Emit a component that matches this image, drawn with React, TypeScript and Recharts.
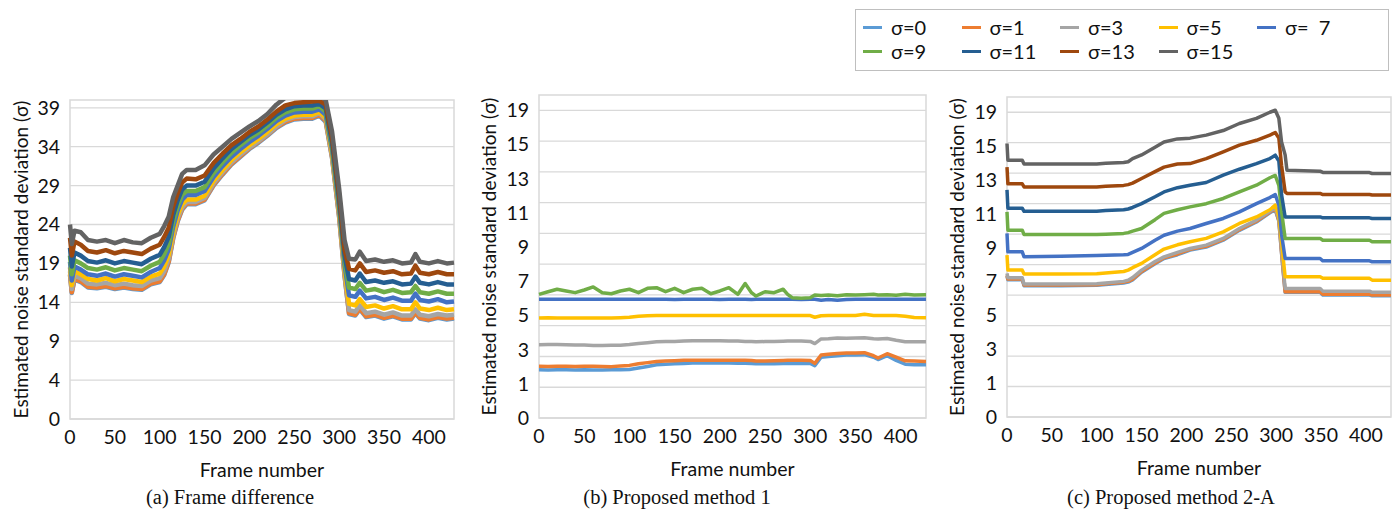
import React from 'react';
import { LineChart, Line, XAxis, YAxis, CartesianGrid, ReferenceArea } from 'recharts';

const SERIES_KEYS = ['s0', 's1', 's3', 's5', 's7', 's9', 's11', 's13', 's15'];
const SERIES_NAMES = ['σ=0', 'σ=1', 'σ=3', 'σ=5', 'σ=  7', 'σ=9', 'σ=11', 'σ=13', 'σ=15'];
const SERIES_COLORS = ['#5B9BD5', '#ED7D31', '#A5A5A5', '#FFC000', '#4472C4', '#70AD47', '#255E91', '#9E480E', '#636363'];

const X_TICKS = [0, 50, 100, 150, 200, 250, 300, 350, 400];
const X_MAX = 428;
const X_TITLE = 'Frame number';
const Y_TITLE = 'Estimated noise standard deviation (σ)';
const CAPTIONS = ['(a) Frame difference', '(b) Proposed method 1', '(c) Proposed method 2-A'];

// ---------- (a) Frame difference ----------
const A_FRAMES = [0, 2, 5, 12, 20, 30, 40, 50, 60, 70, 80, 90, 100, 105, 110, 115, 120, 125, 130, 140, 150, 160, 170, 180, 190, 200, 210, 220, 230, 240, 250, 260, 270, 278, 285, 292, 300, 306, 311, 318, 323, 330, 340, 350, 360, 370, 380, 385, 390, 400, 410, 420, 428];
const A_S15 = [24.0, 21.5, 23.2, 23.0, 22.0, 21.8, 22.0, 21.6, 22.0, 21.7, 21.6, 22.3, 22.8, 23.8, 25.0, 27.5, 29.0, 30.5, 31.0, 31.0, 31.6, 33.0, 34.0, 35.0, 35.8, 36.6, 37.3, 38.2, 39.4, 40.3, 40.5, 40.5, 40.5, 40.6, 40.0, 36.0, 28.6, 22.0, 19.6, 19.5, 20.5, 19.3, 19.5, 19.2, 19.4, 19.0, 19.1, 20.2, 19.2, 19.0, 19.3, 19.0, 19.1];
const A_S13 = [22.3, 20.0, 21.8, 21.4, 20.6, 20.4, 20.7, 20.3, 20.6, 20.4, 20.2, 20.9, 21.4, 22.4, 23.6, 26.3, 28.0, 29.4, 29.9, 29.8, 30.3, 31.9, 33.1, 34.2, 35.0, 35.9, 36.6, 37.5, 38.5, 39.3, 39.6, 39.7, 39.8, 39.9, 39.4, 35.2, 27.8, 20.8, 18.3, 18.1, 19.0, 17.9, 18.1, 17.8, 18.0, 17.6, 17.7, 18.7, 17.8, 17.6, 17.9, 17.6, 17.6];
const A_S11 = [21.0, 18.6, 20.4, 20.0, 19.3, 19.1, 19.4, 19.0, 19.3, 19.1, 18.9, 19.6, 20.1, 21.1, 22.4, 25.2, 27.1, 28.5, 29.0, 29.0, 29.5, 31.2, 32.5, 33.7, 34.6, 35.5, 36.2, 37.1, 38.1, 38.8, 39.2, 39.3, 39.3, 39.5, 38.9, 34.6, 27.1, 20.0, 17.0, 16.8, 17.7, 16.6, 16.8, 16.5, 16.7, 16.3, 16.4, 17.3, 16.5, 16.3, 16.6, 16.3, 16.3];
const A_S9 = [20.0, 17.6, 19.4, 19.0, 18.4, 18.2, 18.5, 18.1, 18.4, 18.2, 18.0, 18.7, 19.2, 20.2, 21.5, 24.4, 26.4, 27.8, 28.3, 28.3, 28.8, 30.6, 32.0, 33.2, 34.2, 35.1, 35.8, 36.7, 37.7, 38.4, 38.8, 38.9, 38.9, 39.2, 38.5, 34.1, 26.6, 19.4, 15.9, 15.7, 16.5, 15.5, 15.7, 15.3, 15.6, 15.2, 15.3, 16.1, 15.3, 15.1, 15.4, 15.1, 15.1];
const A_S7 = [19.2, 16.8, 18.6, 18.2, 17.6, 17.4, 17.7, 17.3, 17.6, 17.4, 17.2, 17.9, 18.4, 19.4, 20.8, 23.7, 25.8, 27.2, 27.8, 27.8, 28.3, 30.1, 31.5, 32.7, 33.7, 34.6, 35.4, 36.3, 37.3, 38.0, 38.4, 38.5, 38.5, 38.8, 38.1, 33.7, 26.1, 18.8, 14.9, 14.7, 15.5, 14.5, 14.7, 14.3, 14.6, 14.2, 14.2, 15.1, 14.3, 14.1, 14.4, 14.0, 14.1];
const A_S5 = [18.5, 16.2, 18.0, 17.6, 17.0, 16.8, 17.1, 16.7, 17.0, 16.8, 16.6, 17.3, 17.7, 18.6, 20.1, 23.0, 25.2, 26.6, 27.2, 27.2, 27.7, 29.6, 31.0, 32.3, 33.3, 34.2, 35.0, 35.9, 36.9, 37.6, 38.0, 38.1, 38.1, 38.5, 37.7, 33.2, 25.6, 18.2, 13.8, 13.6, 14.4, 13.4, 13.6, 13.2, 13.5, 13.1, 13.1, 14.0, 13.2, 13.0, 13.3, 13.0, 13.1];
const A_S3 = [18.0, 15.7, 17.4, 17.1, 16.4, 16.3, 16.5, 16.2, 16.4, 16.2, 16.1, 16.8, 17.1, 18.0, 19.6, 22.6, 24.8, 26.2, 26.9, 26.9, 27.4, 29.3, 30.7, 32.0, 33.0, 33.9, 34.7, 35.6, 36.6, 37.4, 37.8, 37.9, 37.9, 38.3, 37.5, 32.9, 25.3, 17.8, 13.0, 12.8, 13.6, 12.6, 12.8, 12.4, 12.7, 12.3, 12.3, 13.1, 12.4, 12.2, 12.5, 12.3, 12.4];
const A_S1 = [17.6, 15.3, 17.0, 16.7, 16.0, 15.9, 16.1, 15.8, 16.0, 15.8, 15.7, 16.4, 16.7, 17.6, 19.2, 22.3, 24.5, 26.0, 26.7, 26.7, 27.2, 29.1, 30.5, 31.8, 32.8, 33.8, 34.6, 35.5, 36.5, 37.2, 37.6, 37.7, 37.7, 38.1, 37.3, 32.7, 25.0, 17.5, 12.6, 12.4, 13.2, 12.2, 12.4, 12.0, 12.3, 11.9, 11.9, 12.7, 12.0, 11.8, 12.1, 11.9, 12.0];
const A_S0 = [17.5, 15.2, 16.9, 16.6, 15.9, 15.8, 16.0, 15.7, 15.9, 15.7, 15.6, 16.3, 16.6, 17.5, 19.1, 22.2, 24.4, 25.9, 26.6, 26.6, 27.1, 29.0, 30.4, 31.7, 32.7, 33.7, 34.5, 35.4, 36.4, 37.1, 37.5, 37.6, 37.6, 38.0, 37.2, 32.6, 24.9, 17.4, 12.5, 12.3, 13.1, 12.1, 12.3, 11.9, 12.2, 11.8, 11.8, 12.6, 11.9, 11.7, 12.0, 11.8, 11.9];
const A_Y_DOMAIN = [-1, 40];
const A_Y_TICKS = [-1, 4, 9, 14, 19, 24, 29, 34, 39];
const A_Y_LABELS = ['0', '4', '9', '14', '19', '24', '29', '34', '39'];

// ---------- (b) Proposed method 1 ----------
const B_FRAMES = [0, 10, 20, 30, 40, 50, 60, 70, 80, 90, 100, 110, 120, 130, 140, 150, 160, 170, 180, 190, 200, 210, 220, 228, 235, 240, 250, 260, 270, 275, 280, 290, 300, 305, 312, 320, 330, 340, 350, 360, 370, 375, 385, 395, 405, 415, 428];
const B_S0 = [3.14, 3.12, 3.14, 3.13, 3.12, 3.14, 3.12, 3.12, 3.13, 3.13, 3.16, 3.25, 3.35, 3.46, 3.5, 3.52, 3.55, 3.57, 3.57, 3.58, 3.57, 3.57, 3.56, 3.56, 3.55, 3.52, 3.52, 3.53, 3.55, 3.55, 3.55, 3.55, 3.55, 3.4, 3.95, 4.0, 4.05, 4.1, 4.1, 4.12, 3.95, 3.8, 4.05, 3.75, 3.5, 3.47, 3.46];
const B_S1 = [3.36, 3.35, 3.37, 3.36, 3.35, 3.37, 3.36, 3.35, 3.34, 3.38, 3.42, 3.53, 3.6, 3.68, 3.7, 3.72, 3.75, 3.75, 3.76, 3.76, 3.76, 3.75, 3.75, 3.75, 3.74, 3.7, 3.7, 3.72, 3.74, 3.75, 3.75, 3.75, 3.74, 3.55, 4.1, 4.15, 4.2, 4.23, 4.22, 4.25, 4.05, 3.9, 4.18, 3.95, 3.72, 3.7, 3.68];
const B_S3 = [4.77, 4.78, 4.78, 4.76, 4.75, 4.74, 4.72, 4.72, 4.73, 4.73, 4.78, 4.85, 4.9, 4.95, 4.97, 4.98, 5.0, 5.03, 5.03, 5.02, 5.02, 5.0, 5.0, 4.98, 4.97, 4.95, 4.97, 4.97, 4.99, 5.0, 5.0, 5.0, 4.98, 4.84, 5.14, 5.15, 5.2, 5.18, 5.2, 5.22, 5.15, 5.13, 5.17, 5.05, 4.96, 4.95, 4.95];
const B_S5 = [6.5, 6.52, 6.5, 6.5, 6.5, 6.5, 6.5, 6.5, 6.5, 6.52, 6.55, 6.62, 6.65, 6.67, 6.67, 6.67, 6.67, 6.67, 6.67, 6.67, 6.67, 6.67, 6.67, 6.67, 6.67, 6.67, 6.67, 6.67, 6.67, 6.67, 6.67, 6.67, 6.66, 6.55, 6.65, 6.66, 6.66, 6.67, 6.67, 6.74, 6.67, 6.67, 6.67, 6.66, 6.62, 6.53, 6.52];
const B_S7 = [7.72, 7.72, 7.72, 7.72, 7.72, 7.72, 7.72, 7.72, 7.72, 7.72, 7.72, 7.72, 7.72, 7.72, 7.72, 7.7, 7.72, 7.72, 7.72, 7.72, 7.7, 7.72, 7.72, 7.72, 7.7, 7.72, 7.72, 7.72, 7.72, 7.72, 7.72, 7.7, 7.72, 7.72, 7.66, 7.7, 7.65, 7.7, 7.72, 7.72, 7.72, 7.72, 7.72, 7.72, 7.72, 7.72, 7.72];
const B_S9 = [8.04, 8.21, 8.37, 8.26, 8.15, 8.32, 8.52, 8.15, 8.08, 8.26, 8.37, 8.15, 8.43, 8.47, 8.21, 8.43, 8.15, 8.37, 8.43, 8.08, 8.26, 8.47, 8.04, 8.74, 8.15, 7.93, 8.21, 8.15, 8.37, 8.04, 7.82, 7.78, 7.82, 8.0, 7.97, 8.0, 7.95, 8.02, 8.0, 8.02, 8.04, 8.0, 8.02, 7.98, 8.04, 8.0, 8.02];

// ---------- (c) Proposed method 2-A ----------
const C_FRAMES = [0, 1, 17, 19, 60, 100, 110, 130, 135, 140, 150, 165, 175, 190, 204, 222, 241, 259, 278, 293, 299, 303, 306, 310, 312, 349, 352, 404, 407, 428];
const C_S15 = [17.95, 16.85, 16.85, 16.6, 16.6, 16.6, 16.65, 16.7, 16.75, 16.96, 17.2, 17.7, 18.05, 18.25, 18.3, 18.5, 18.8, 19.26, 19.6, 20.0, 20.13, 19.6, 18.05, 17.2, 16.2, 16.13, 16.05, 16.04, 15.98, 15.98];
const C_S13 = [16.4, 15.3, 15.3, 15.1, 15.1, 15.1, 15.15, 15.2, 15.25, 15.35, 15.65, 16.1, 16.4, 16.6, 16.63, 16.96, 17.4, 17.84, 18.16, 18.5, 18.67, 18.3, 16.52, 14.77, 14.67, 14.67, 14.6, 14.6, 14.57, 14.57];
const C_S11 = [14.9, 13.7, 13.7, 13.5, 13.5, 13.5, 13.55, 13.6, 13.65, 13.75, 14.0, 14.45, 14.77, 15.05, 15.21, 15.39, 15.87, 16.26, 16.63, 16.96, 17.18, 16.8, 14.6, 13.13, 13.13, 13.13, 13.07, 13.07, 13.03, 13.03];
const C_S9 = [13.46, 12.26, 12.26, 11.97, 11.97, 11.97, 12.0, 12.05, 12.1, 12.2, 12.37, 12.95, 13.36, 13.6, 13.79, 14.0, 14.34, 14.77, 15.21, 15.7, 15.85, 15.2, 13.5, 11.72, 11.72, 11.72, 11.6, 11.6, 11.5, 11.5];
const C_S7 = [12.05, 10.84, 10.84, 10.51, 10.55, 10.6, 10.62, 10.65, 10.67, 10.8, 11.06, 11.6, 11.93, 12.2, 12.37, 12.7, 13.03, 13.46, 14.0, 14.4, 14.6, 13.9, 12.0, 10.4, 10.4, 10.4, 10.25, 10.25, 10.19, 10.19];
const C_S5 = [10.62, 9.64, 9.64, 9.38, 9.38, 9.4, 9.45, 9.55, 9.64, 9.8, 10.08, 10.65, 11.02, 11.3, 11.5, 11.72, 12.15, 12.7, 13.13, 13.6, 13.9, 13.2, 11.5, 9.2, 9.2, 9.2, 9.1, 9.1, 8.98, 8.98];
const C_S3 = [9.42, 9.14, 9.14, 8.72, 8.72, 8.75, 8.8, 8.9, 8.98, 9.15, 9.64, 10.2, 10.51, 10.8, 11.06, 11.28, 11.72, 12.37, 12.92, 13.5, 13.72, 13.0, 11.0, 8.44, 8.44, 8.44, 8.26, 8.26, 8.18, 8.18];
const C_S1 = [9.3, 9.05, 9.05, 8.66, 8.66, 8.68, 8.75, 8.85, 8.9, 9.05, 9.55, 10.1, 10.45, 10.7, 11.0, 11.2, 11.65, 12.3, 12.85, 13.45, 13.65, 12.9, 10.8, 8.22, 8.22, 8.22, 8.05, 8.05, 8.0, 8.0];
const C_S0 = [9.25, 9.0, 9.0, 8.62, 8.62, 8.64, 8.7, 8.8, 8.85, 9.0, 9.5, 10.05, 10.4, 10.65, 10.95, 11.15, 11.6, 12.25, 12.8, 13.4, 13.6, 12.85, 10.75, 8.18, 8.18, 8.18, 8.0, 8.0, 7.96, 7.96];

const BC_Y_DOMAIN = [0, 21];
const BC_Y_TICKS = [0, 2.22, 4.44, 6.67, 8.89, 11.11, 13.33, 15.56, 17.78, 20];
const BC_Y_LABELS = ['0', '1', '3', '5', '7', '9', '11', '13', '15', '19'];
const BC_GRID = [0, 2, 4, 6, 8, 10, 12, 14, 16, 18, 20];

function buildRows(frames: number[], series: Record<string, number[]>) {
  return frames.map((f, i) => {
    const row: Record<string, number> = { frame: f };
    Object.keys(series).forEach((k) => {
      row[k] = series[k][i];
    });
    return row;
  });
}

const A_DATA = buildRows(A_FRAMES, { s0: A_S0, s1: A_S1, s3: A_S3, s5: A_S5, s7: A_S7, s9: A_S9, s11: A_S11, s13: A_S13, s15: A_S15 });
const B_DATA = buildRows(B_FRAMES, { s0: B_S0, s1: B_S1, s3: B_S3, s5: B_S5, s7: B_S7, s9: B_S9 });
const C_DATA = buildRows(C_FRAMES, { s0: C_S0, s1: C_S1, s3: C_S3, s5: C_S5, s7: C_S7, s9: C_S9, s11: C_S11, s13: C_S13, s15: C_S15 });

const FONT = 'Lato, "Open Sans", sans-serif';
const TEXT_COLOR = '#111';
const TICK_FONT = 19.5;

function YTitle(props: any) {
  const vb = props.viewBox || {};
  const cx = vb.x + props.offsetX;
  const cy = vb.y + vb.height / 2;
  return (
    <text x={cx} y={cy} transform={`rotate(-90 ${cx} ${cy})`} textAnchor="middle" dominantBaseline="central" fontSize={19} fill={TEXT_COLOR} fontFamily={FONT}>
      {Y_TITLE}
    </text>
  );
}

function XTitle(props: any) {
  const vb = props.viewBox || {};
  return (
    <text x={vb.x + vb.width / 2} y={vb.y + vb.height - 3} textAnchor="middle" fontSize={19.5} fill={TEXT_COLOR} fontFamily={FONT}>
      {X_TITLE}
    </text>
  );
}

type PanelProps = {
  left: number; top: number; width: number; height: number;
  yAxisWidth: number; marginRight: number; titleX: number;
  data: any[]; keys: string[];
  yDomain: number[]; yTicks: number[]; yLabels: string[]; grid: number[];
  strokeWidth: number;
};

function Panel(p: PanelProps) {
  return (
    <div style={{ position: 'absolute', left: p.left, top: p.top, fontFamily: FONT }}>
      <LineChart width={p.width} height={p.height} data={p.data} margin={{ top: 10, right: p.marginRight, bottom: 0, left: 0 }}>
        <CartesianGrid vertical={false} horizontalValues={p.grid} stroke="#d9d9d9" strokeWidth={1.3} />
        <ReferenceArea x1={0} x2={X_MAX} y1={p.yDomain[0]} y2={p.yDomain[1]} fill="none" stroke="#d9d9d9" strokeWidth={1.5} ifOverflow="visible" />
        <XAxis
          dataKey="frame" type="number" domain={[0, X_MAX]} ticks={X_TICKS} interval={0}
          axisLine={false} tickLine={false} tickSize={0} tickMargin={11} height={61}
          tick={{ fontSize: TICK_FONT, fill: TEXT_COLOR }}
          label={<XTitle />}
        />
        <YAxis
          type="number" domain={p.yDomain} ticks={p.yTicks} interval={0} allowDataOverflow
          tickFormatter={(v: number, i: number) => p.yLabels[i]}
          axisLine={false} tickLine={false} tickSize={0} tickMargin={10} width={p.yAxisWidth}
          tick={{ fontSize: TICK_FONT, fill: TEXT_COLOR }}
          label={<YTitle offsetX={p.titleX} />}
        />
        {p.keys.map((k) => {
          const idx = SERIES_KEYS.indexOf(k);
          return (
            <Line key={k} dataKey={k} name={SERIES_NAMES[idx]} type="linear" stroke={SERIES_COLORS[idx]}
              strokeWidth={p.strokeWidth} dot={false} isAnimationActive={false} strokeLinejoin="round" />
          );
        })}
      </LineChart>
    </div>
  );
}

function LegendBox() {
  return (
    <div style={{
      position: 'absolute', left: 855, top: 9, width: 534, height: 62, border: '1.5px solid #bfbfbf',
      background: '#fff', fontFamily: FONT, fontSize: 20, lineHeight: '20px', color: TEXT_COLOR, boxSizing: 'border-box',
      display: 'grid', gridTemplateColumns: 'repeat(5, 98.5px)', gridAutoRows: '24px', paddingLeft: 7, paddingTop: 5,
    }}>
      {SERIES_NAMES.map((n, i) => (
        <div key={n} style={{ display: 'flex', alignItems: 'center', whiteSpace: 'pre', height: 24 }}>
          <span style={{ display: 'inline-block', width: 19, height: 3, background: SERIES_COLORS[i], marginRight: 9 }} />
          <span style={{ lineHeight: '20px' }}>{n}</span>
        </div>
      ))}
    </div>
  );
}

const CAPTION_CENTERS = [230, 677, 1171];

export default function App() {
  return (
    <div style={{ position: 'absolute', left: 0, top: 0, width: 1400, height: 514, background: '#fff', overflow: 'hidden' }}>
      <Panel left={0} top={90} width={470} height={390} yAxisWidth={70} marginRight={16} titleX={20}
        data={A_DATA} keys={SERIES_KEYS} yDomain={A_Y_DOMAIN} yTicks={A_Y_TICKS} yLabels={A_Y_LABELS} grid={A_Y_TICKS} strokeWidth={4.5} />
      <Panel left={470} top={85} width={470} height={394} yAxisWidth={69} marginRight={14} titleX={18.5}
        data={B_DATA} keys={['s0', 's1', 's3', 's5', 's7', 's9']} yDomain={BC_Y_DOMAIN} yTicks={BC_Y_TICKS} yLabels={BC_Y_LABELS} grid={BC_GRID} strokeWidth={3.5} />
      <Panel left={935} top={87} width={465} height={391} yAxisWidth={72} marginRight={9} titleX={21}
        data={C_DATA} keys={SERIES_KEYS} yDomain={BC_Y_DOMAIN} yTicks={BC_Y_TICKS} yLabels={BC_Y_LABELS} grid={BC_GRID} strokeWidth={3.5} />
      <LegendBox />
      {CAPTIONS.map((c, i) => (
        <div key={c} style={{ position: 'absolute', top: 485, left: CAPTION_CENTERS[i] - 150, width: 300, textAlign: 'center', fontFamily: '"Liberation Serif", "Times New Roman", serif', fontSize: 20.5, color: '#111', lineHeight: '24px' }}>
          {c}
        </div>
      ))}
    </div>
  );
}
